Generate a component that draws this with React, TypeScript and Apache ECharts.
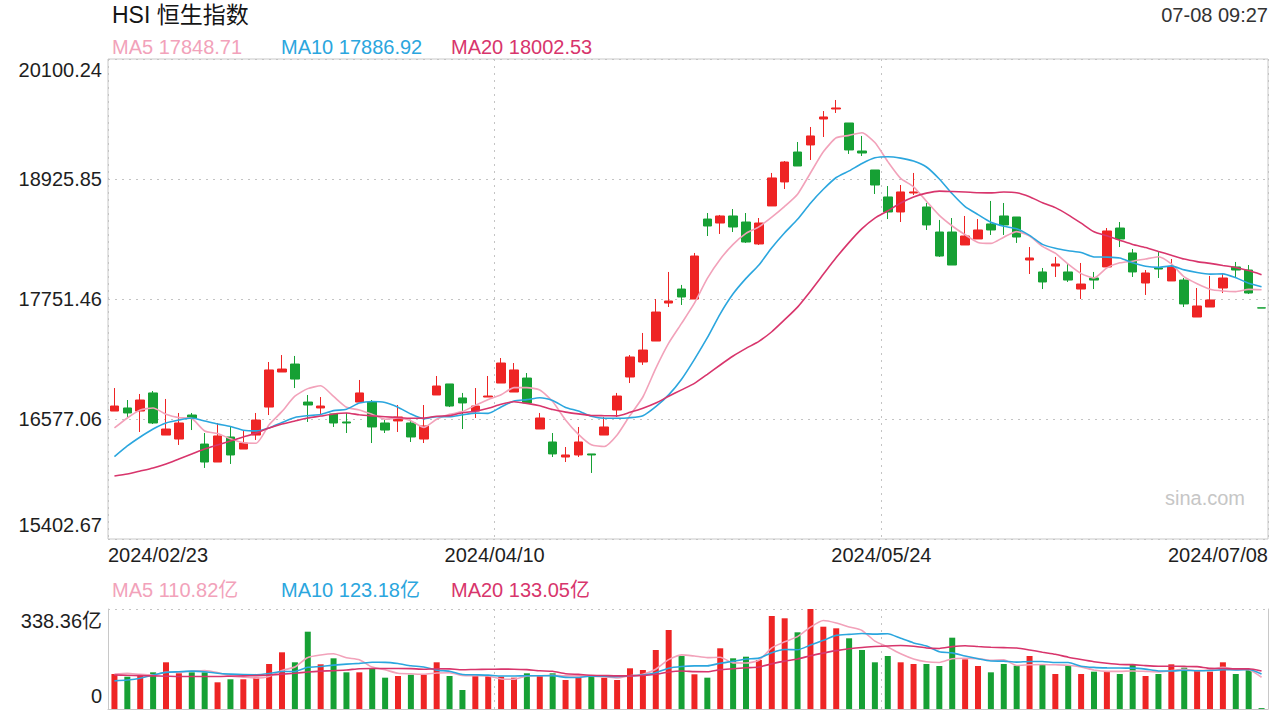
import React, { useEffect, useRef } from "react";
import * as echarts from "echarts";

const FONT = "'Liberation Sans', Arial, 'Noto Sans CJK SC', sans-serif";

const dates = [
  "2024/02/23","2024/02/26","2024/02/27","2024/02/28","2024/02/29",
  "2024/03/01","2024/03/04","2024/03/05","2024/03/06","2024/03/07","2024/03/08",
  "2024/03/11","2024/03/12","2024/03/13","2024/03/14","2024/03/15",
  "2024/03/18","2024/03/19","2024/03/20","2024/03/21","2024/03/22",
  "2024/03/25","2024/03/26","2024/03/27","2024/03/28",
  "2024/04/02","2024/04/03","2024/04/05","2024/04/08","2024/04/09","2024/04/10",
  "2024/04/11","2024/04/12","2024/04/15","2024/04/16","2024/04/17","2024/04/18","2024/04/19",
  "2024/04/22","2024/04/23","2024/04/24","2024/04/25","2024/04/26","2024/04/29","2024/04/30",
  "2024/05/02","2024/05/03","2024/05/06","2024/05/07","2024/05/08","2024/05/09","2024/05/10",
  "2024/05/13","2024/05/14","2024/05/16","2024/05/17","2024/05/20","2024/05/21","2024/05/22",
  "2024/05/23","2024/05/24","2024/05/27","2024/05/28","2024/05/29","2024/05/30","2024/05/31",
  "2024/06/03","2024/06/04","2024/06/05","2024/06/06","2024/06/07",
  "2024/06/11","2024/06/12","2024/06/13","2024/06/14",
  "2024/06/17","2024/06/18","2024/06/19","2024/06/20","2024/06/21",
  "2024/06/24","2024/06/25","2024/06/26","2024/06/27","2024/06/28",
  "2024/07/02","2024/07/03","2024/07/04","2024/07/05","2024/07/08",
];

const opens = [
  16655,16685,16655,16832,16420,16381,16616,16332,16156,16401,
  16283,16420,16694,17037,17115,16743,16685,16626,16548,16743,
  16743,16538,16558,16538,16381,16812,16920,16783,16655,16792,
  16929,16841,16978,16479,16352,16205,16225,16235,16420,16665,
  16988,17135,17340,17712,17849,17751,18534,18495,18564,18505,
  18290,18662,18897,19190,19259,19513,19611,19474,19200,19014,
  18750,18603,18789,18652,18407,18407,18280,18339,18486,18564,
  18554,18133,18016,18074,18016,17849,17957,18065,18446,18202,
  17908,18055,17928,17937,17575,17673,17859,18065,18035,17665,
];
const closes = [
  16704,16636,16763,16538,16479,16538,16587,16156,16411,16225,
  16342,16567,17057,17066,16968,16714,16704,16538,16538,16832,
  16499,16469,16597,16401,16509,16900,16704,16734,16704,16802,
  17125,17057,16734,16587,16235,16225,16352,16225,16499,16802,
  17184,17252,17624,17732,17771,18172,18466,18564,18456,18309,
  18495,18936,19092,19053,19347,19533,19621,19210,19180,18867,
  18603,18799,18799,18476,18172,18084,18368,18427,18427,18476,
  18358,18153,17918,18094,17937,17898,17937,18417,18339,18016,
  18006,18045,18065,17703,17683,17742,17957,18035,17810,17663,
];
const lows = [
  16655,16597,16450,16528,16420,16323,16469,16098,16156,16137,
  16283,16372,16616,17037,16880,16548,16626,16499,16440,16743,
  16342,16440,16450,16352,16342,16812,16694,16479,16587,16792,
  16929,16841,16734,16479,16205,16156,16205,16049,16420,16597,
  16929,17106,17340,17673,17693,17751,18368,18388,18407,18300,
  18280,18662,18828,19053,19112,19337,19572,19171,19151,18779,
  18534,18505,18769,18427,18163,18084,18280,18339,18378,18378,
  18300,17996,17849,17967,17918,17751,17849,18065,18260,17967,
  17791,17957,17928,17673,17575,17673,17810,17957,17800,17663,
];
const highs = [
  16880,16763,16822,16851,16773,16636,16636,16440,16538,16499,
  16469,16636,17135,17203,17194,16812,16792,16626,16636,16959,
  16763,16567,16714,16567,16714,16998,16920,16832,16880,16998,
  17174,17125,17027,16636,16440,16303,16499,16235,16597,16832,
  17203,17419,17751,18016,17889,18202,18593,18574,18632,18593,
  18544,18985,19102,19288,19435,19591,19699,19474,19347,19014,
  18857,18867,18985,18691,18525,18544,18564,18534,18711,18691,
  18554,18260,18055,18163,18094,18104,18016,18446,18505,18241,
  18035,18211,18143,17957,17859,17977,18006,18114,18084,17665,
];
// turnover, 亿
const volumes = [
  118.4,109.3,111.7,124.1,158.0,120.8,124.1,124.1,90.3,100.5,
  100.5,107.3,152.3,191.8,158.0,261.6,151.2,171.5,124.1,124.1,
  137.7,106.0,111.7,116.1,116.1,158.0,111.7,64.3,111.7,111.7,
  109.3,106.0,120.8,115.0,120.8,98.1,106.0,115.0,106.0,98.1,
  137.7,132.0,199.6,267.3,179.3,117.4,106.0,205.4,171.5,177.0,
  165.8,314.7,306.9,259.5,338.36,278.5,273.0,239.2,199.6,158.0,
  179.3,158.0,152.3,152.3,145.5,241.3,168.1,145.5,124.1,152.3,
  146.6,179.3,151.2,118.4,145.5,118.4,126.3,128.6,118.4,151.2,
  111.7,118.4,151.2,139.8,128.6,126.3,158.0,118.4,132.0,3.0,
];

// MA values at the start of the window (their inputs precede the window)
const ma5Head = [16489, 16587, 16665, 16685];
const ma10Head = [16208, 16313, 16401, 16479, 16538, 16567, 16587, 16558, 16528];
const ma20Head = [16019, 16039, 16068, 16098, 16137, 16186, 16235, 16284, 16323, 16362,
  16401, 16440, 16489, 16528, 16558, 16587, 16606, 16626, 16636];
const vma5Head = [118, 121, 117, 115];
const vma10Head = [95, 98, 104, 115, 124, 126, 128, 126, 121];
const vma20Head = [115, 114, 113, 112, 111, 110, 110, 110, 110, 111, 112, 113, 115, 118, 121, 125, 128, 130, 132];

const PRICE_MIN = 15402.67;
const PRICE_MAX = 20100.24;
const priceTickLabels = ["15402.67", "16577.06", "17751.46", "18925.85", "20100.24"];
const VOL_MAX = 338.36;
const volTickLabels = ["0", "338.36亿"];
const xTickLabels = ["2024/02/23", "2024/04/10", "2024/05/24", "2024/07/08"];

const titleText = "HSI 恒生指数";
const timeText = "07-08 09:27";
const maNames = ["MA5", "MA10", "MA20"];
const priceMaLegend = ["17848.71", "17886.92", "18002.53"];
const volMaLegend = ["110.82亿", "123.18亿", "133.05亿"];

const RED = "#ee2424";
const GREEN = "#16a034";
const MA_COLORS = ["#f2a2ba", "#2ba6de", "#d8356c"];

function movingAvg(src: number[], n: number, head: number[]) {
  return src.map((_, i) => {
    if (i < n - 1) return head[i];
    let s = 0;
    for (let k = i - n + 1; k <= i; k++) s += src[k];
    return +(s / n).toFixed(2);
  });
}

export default function App() {
  const ref = useRef<HTMLDivElement>(null);
  useEffect(() => {
    if (!ref.current) return;
    const chart = echarts.init(ref.current, undefined, { renderer: "svg" });
    const candles = dates.map((_, i) => [opens[i], closes[i], lows[i], highs[i]]);
    const ma5 = movingAvg(closes, 5, ma5Head);
    const ma10 = movingAvg(closes, 10, ma10Head);
    const ma20 = movingAvg(closes, 20, ma20Head);
    const vma5 = movingAvg(volumes, 5, vma5Head);
    const vma10 = movingAvg(volumes, 10, vma10Head);
    const vma20 = movingAvg(volumes, 20, vma20Head);
    const volData = volumes.map((v, i) => ({
      value: v,
      itemStyle: { color: closes[i] >= opens[i] ? RED : GREEN },
    }));
    const dotted = { show: true, lineStyle: { color: "#c4c4c4", type: [2, 5] as any, width: 1 } };
    const lineSeries = (name: string, data: number[], color: string, xi: number, yi: number) => ({
      name, type: "line", data, xAxisIndex: xi, yAxisIndex: yi, showSymbol: false, symbol: "none",
      smooth: 0.2, lineStyle: { color, width: 1.6 }, z: 5, silent: true,
    });
    const legendTexts: any[] = [];
    const xs = [112, 281, 451];
    maNames.forEach((n, k) => {
      legendTexts.push({ type: "text", x: xs[k], y: 47, style: { text: `${n} ${priceMaLegend[k]}`, fill: MA_COLORS[k], fontSize: 20, fontFamily: FONT, verticalAlign: "middle" } });
      legendTexts.push({ type: "text", x: xs[k], y: 590, style: { text: `${n} ${volMaLegend[k]}`, fill: MA_COLORS[k], fontSize: 20, fontFamily: FONT, verticalAlign: "middle" } });
    });

    chart.setOption({
      animation: false,
      backgroundColor: "#ffffff",
      textStyle: { fontFamily: FONT },
      grid: [
        { left: 108, top: 59, width: 1160, height: 480, show: true, borderColor: "#c8c8c8", borderWidth: 1, backgroundColor: "transparent", containLabel: false, outerBoundsMode: "none" },
        { left: 108, top: 609, width: 1160, height: 100, show: false, containLabel: false, outerBoundsMode: "none" },
      ],
      xAxis: [
        { type: "category", gridIndex: 0, data: dates, show: false, boundaryGap: true },
        {
          type: "value", gridIndex: 0, min: 0, max: 3, interval: 1, position: "bottom",
          axisLine: { show: false }, axisTick: { show: false }, splitLine: dotted,
          axisLabel: { formatter: (v: number) => xTickLabels[Math.round(v)], fontSize: 20, color: "#1e1e1e", margin: 6, alignMinLabel: "left", alignMaxLabel: "right", fontFamily: FONT },
        },
        { type: "category", gridIndex: 1, data: dates, boundaryGap: true, axisLine: { show: true, lineStyle: { color: "#c8c8c8" } }, axisTick: { show: false }, axisLabel: { show: false }, splitLine: { show: false } },
        { type: "value", gridIndex: 1, min: 0, max: 3, interval: 1, axisLine: { show: false }, axisTick: { show: false }, axisLabel: { show: false }, splitLine: dotted },
      ],
      yAxis: [
        { type: "value", gridIndex: 0, min: PRICE_MIN, max: PRICE_MAX, show: false, scale: true },
        {
          type: "value", gridIndex: 0, position: "left", min: 0, max: 4, interval: 1,
          axisLine: { show: false }, axisTick: { show: false }, splitLine: dotted,
          axisLabel: {
            margin: 6, color: "#1e1e1e", fontSize: 20, fontFamily: FONT,
            formatter: (v: number) => {
              const i = Math.round(v);
              if (i === 4) return `{t|${priceTickLabels[i]}}`;
              if (i === 0) return `{b|${priceTickLabels[i]}}`;
              return `{m|${priceTickLabels[i]}}`;
            },
            rich: {
              t: { fontSize: 20, lineHeight: 20, padding: [22, 0, 0, 0], color: "#1e1e1e", fontFamily: FONT },
              b: { fontSize: 20, lineHeight: 20, padding: [0, 0, 28, 0], color: "#1e1e1e", fontFamily: FONT },
              m: { fontSize: 20, lineHeight: 20, color: "#1e1e1e", fontFamily: FONT },
            },
          },
        },
        {
          type: "value", gridIndex: 1, position: "left", min: 0, max: VOL_MAX, interval: VOL_MAX,
          axisLine: { show: true, lineStyle: { color: "#c8c8c8" } }, axisTick: { show: false }, splitLine: dotted,
          axisLabel: {
            margin: 6, color: "#1e1e1e", fontSize: 20, fontFamily: FONT,
            formatter: (v: number) => (v > 0 ? `{t|${volTickLabels[1]}}` : `{b|${volTickLabels[0]}}`),
            rich: {
              t: { fontSize: 20, lineHeight: 20, padding: [24, 0, 0, 0], color: "#1e1e1e", fontFamily: FONT },
              b: { fontSize: 20, lineHeight: 20, padding: [0, 0, 26, 0], color: "#1e1e1e", fontFamily: FONT },
            },
          },
        },
        { type: "value", gridIndex: 1, position: "right", min: 0, max: VOL_MAX, axisLine: { show: true, lineStyle: { color: "#c8c8c8" } }, axisTick: { show: false }, axisLabel: { show: false }, splitLine: { show: false } },
      ],
      series: [
        {
          name: "HSI", type: "candlestick", data: candles, xAxisIndex: 0, yAxisIndex: 0, barWidth: 9,
          itemStyle: { color: RED, color0: GREEN, borderColor: RED, borderColor0: GREEN, borderWidth: 1 },
          silent: true,
        },
        lineSeries("MA5", ma5, MA_COLORS[0], 0, 0),
        lineSeries("MA10", ma10, MA_COLORS[1], 0, 0),
        lineSeries("MA20", ma20, MA_COLORS[2], 0, 0),
        { name: "VOL", type: "bar", data: volData, xAxisIndex: 2, yAxisIndex: 2, barWidth: 6, silent: true },
        lineSeries("VMA5", vma5, MA_COLORS[0], 2, 2),
        lineSeries("VMA10", vma10, MA_COLORS[1], 2, 2),
        lineSeries("VMA20", vma20, MA_COLORS[2], 2, 2),
      ],
      graphic: [
        { type: "text", x: 112, y: 15, style: { text: titleText, fill: "#151515", fontSize: 23, fontFamily: FONT, verticalAlign: "middle" } },
        { type: "text", x: 1268, y: 15, style: { text: timeText, fill: "#333333", fontSize: 20, fontFamily: FONT, align: "right", verticalAlign: "middle" } },
        { type: "text", x: 1205, y: 498, style: { text: "sina.com", fill: "#c6c6c6", fontSize: 20, fontFamily: FONT, align: "center", verticalAlign: "middle" } },
        ...legendTexts,
      ],
    });
    return () => chart.dispose();
  }, []);
  return <div ref={ref} style={{ position: "fixed", left: 0, top: 0, width: 1280, height: 720, background: "#fff" }} />;
}
